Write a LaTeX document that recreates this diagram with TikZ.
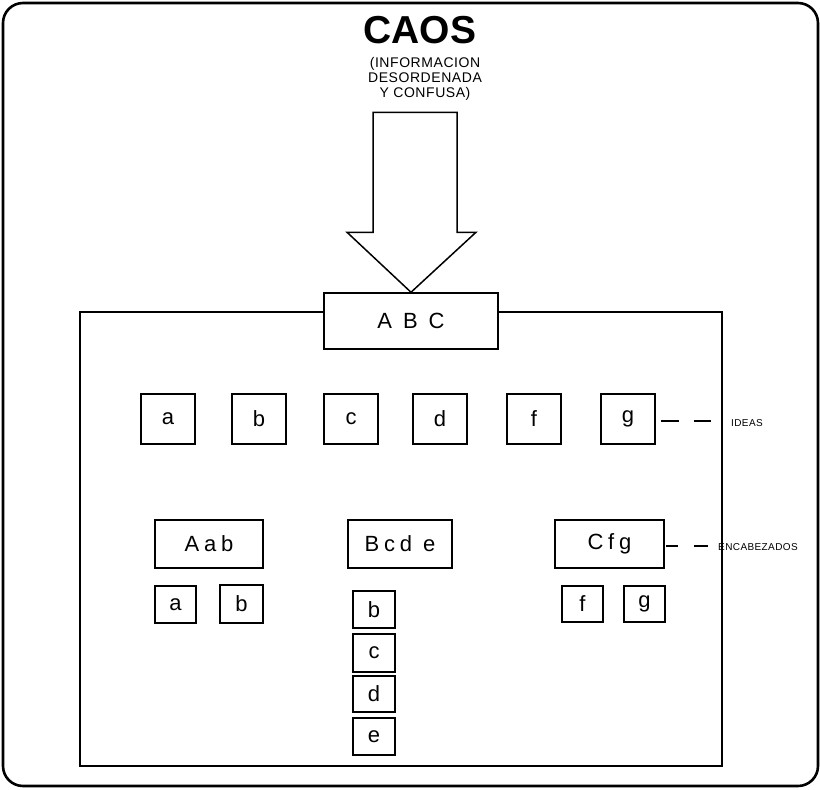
\documentclass[tikz,border=0pt]{standalone}
\usepackage{fontspec}
\setmainfont{Liberation Sans}
\newfontfamily\boxfont[LetterSpace=22]{Liberation Sans}
\newfontfamily\smallfont[LetterSpace=4]{Liberation Sans}
\begin{document}
\begin{tikzpicture}[x=1pt,y=-1pt,
  frame/.style={line width=2.6pt,rounded corners=20pt},
  inner/.style={line width=1.6pt},
  bx/.style={draw,line width=1.5pt,fill=white,inner sep=0pt,font=\boxfont\fontsize{22}{22}\selectfont},
  idea/.style={bx,minimum width=54pt,minimum height=50pt},
  head/.style={bx,minimum height=48pt},
  sub/.style={bx,minimum width=42pt,minimum height=37pt},
  lbl/.style={font=\smallfont\fontsize{10}{10}\selectfont,anchor=west,inner sep=0pt},
  dsh/.style={line width=1.5pt}
]
\useasboundingbox (0,0) rectangle (820,790);
\draw[frame] (3,3) rectangle (818,786);

% title
\node[anchor=north,inner sep=0pt,font=\fontsize{39}{39}\selectfont\bfseries] (caos) at (420,16) {CAOS};
\node[anchor=north,inner sep=0pt,font=\smallfont\fontsize{14}{15}\selectfont,align=center] (sub1) at (425,57) {(INFORMACION\\DESORDENADA\\Y CONFUSA)};

% inner frame
\draw[inner] (80,312) rectangle (722,766);

% ABC box
\node[bx,minimum width=174pt,minimum height=56pt] (abc) at (411,321) {A B C};

% big arrow
\draw[line width=1.5pt,line join=miter] (abc.north) -- ++(65,-60) -- ++(-19,0) -- ++(0,-120) -- ++(-84,0) -- ++(0,120) -- ++(-26,0) -- cycle;

% ideas
\node[idea] (ia) at (168,419) {a};
\node[idea] (ib) at (259,419) {b};
\node[idea] (ic) at (351,419) {c};
\node[idea] (id) at (440,419) {d};
\node[idea] (if) at (534,419) {f};
\node[idea] (ig) at (628,419) {g};
\coordinate (ideasend) at (711,421);
\draw[dsh,dash pattern=on 0pt off 5pt on 18pt off 15pt on 18pt] (ig.east |- ideasend) -- (ideasend);
\node[lbl] (ideas) at (731,423) {IDEAS};

% headings
\node[head,minimum width=108pt] (haab) at (209,544) {Aab};
\node[head,minimum width=104pt] (hbcde) at (400,544) {Bcd e};
\node[head,minimum width=109pt] (hcfg) at (609.5,544) {Cfg};
\coordinate (headend) at (708,546);
\draw[dsh,dash pattern=on 0pt off 1pt on 12pt off 16pt on 16pt] (hcfg.east |- headend) -- (headend);
\node[lbl] (enc) at (718,547) {ENCABEZADOS};
\draw[inner] (722,530) -- (722,560);

% sub items
\node[sub,minimum width=41pt] (sa) at (175.5,604.5) {a};
\node[sub,minimum width=43pt,minimum height=38pt] (sb) at (241.5,604) {b};
\node[sub,minimum width=41pt,minimum height=36pt] (sf) at (582.5,604) {f};
\node[sub,minimum width=41pt,minimum height=36pt] (sg) at (644.5,604) {g};

\node[sub] (cb) at (374,609.5) {b};
\node[sub,minimum height=38pt] (cc) at (374,653) {c};
\node[sub,minimum height=36pt] (cd) at (374,694) {d};
\node[sub] (ce) at (374,736.5) {e};
\end{tikzpicture}
\end{document}
